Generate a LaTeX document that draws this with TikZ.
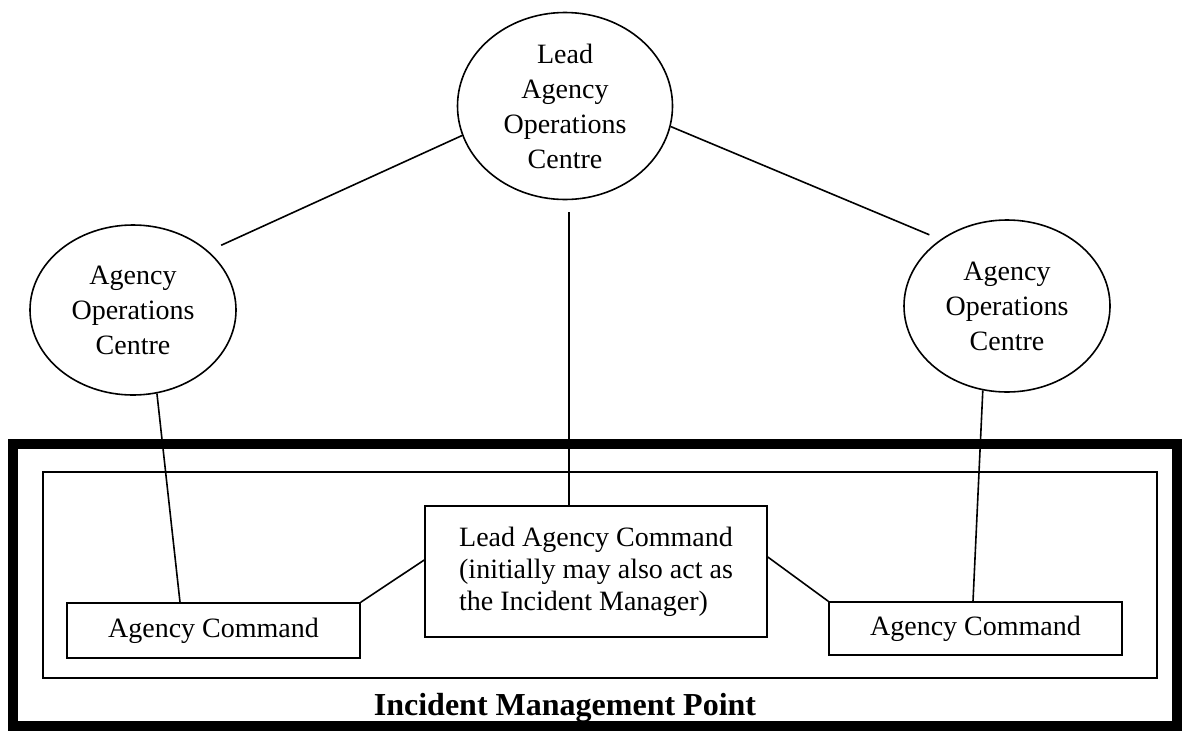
\documentclass[tikz,border=0pt]{standalone}
\usepackage{fontspec}
\setmainfont{Liberation Serif}
\usetikzlibrary{shapes.geometric}
\tikzset{
  thin line/.style={line width=1.6pt},
  circ/.style={ellipse, draw, thin line, inner sep=0pt, align=center,
    font=\fontsize{28}{35}\selectfont},
  cmdbox/.style={rectangle, draw, thin line, inner sep=0pt,
    font=\fontsize{28}{32}\selectfont},
  link/.style={draw, thin line},
}
\begin{document}
\begin{tikzpicture}[x=1pt,y=-1pt]
\useasboundingbox (0,0) rectangle (1182,731);
% frames
\draw[line width=10pt] (13,444) rectangle (1177,726);
\draw[thin line] (43,472) rectangle (1157,678);
% nodes
\node[circ, minimum width=215pt, minimum height=187pt] (top) at (565,106)
  {Lead\\Agency\\Operations\\Centre};
\node[circ, minimum width=206pt, minimum height=170pt] (left) at (133,310)
  {Agency\\Operations\\Centre};
\node[circ, minimum width=206pt, minimum height=172pt] (right) at (1007,306)
  {Agency\\Operations\\Centre};
\node[cmdbox, minimum width=342pt, minimum height=131pt, align=left] (lac) at (596,571.5)
  {Lead Agency Command\\(initially may also act as\\the Incident Manager)};
\node[cmdbox, minimum width=293pt, minimum height=55pt] (acl) at (213.5,630.5)
  {Agency Command};
\node[cmdbox, minimum width=293pt, minimum height=53pt] (acr) at (975.5,628.5)
  {Agency Command};
\node[font=\fontsize{32}{36}\selectfont\bfseries, anchor=base, inner sep=0pt] (imp) at (565,715)
  {Incident Management Point};
% connectors
\draw[link, shorten >=14pt] (top.196) -- (left.38);
\draw[link, shorten >=12pt] (top.349) -- (right.135);
\draw[link] ([xshift=4pt,yshift=-12pt]top.south) -- ([xshift=4pt]top.south |- lac.north);
\draw[link] (left.286) -- ([xshift=-33.5pt]acl.north);
\draw[link] (right.254) -- ([xshift=-2.5pt]acr.north);
\draw[link] ([yshift=11.5pt]lac.west) -- (acl.north east);
\draw[link] ([yshift=14.5pt]lac.east) -- (acr.north west);
\end{tikzpicture}
\end{document}
